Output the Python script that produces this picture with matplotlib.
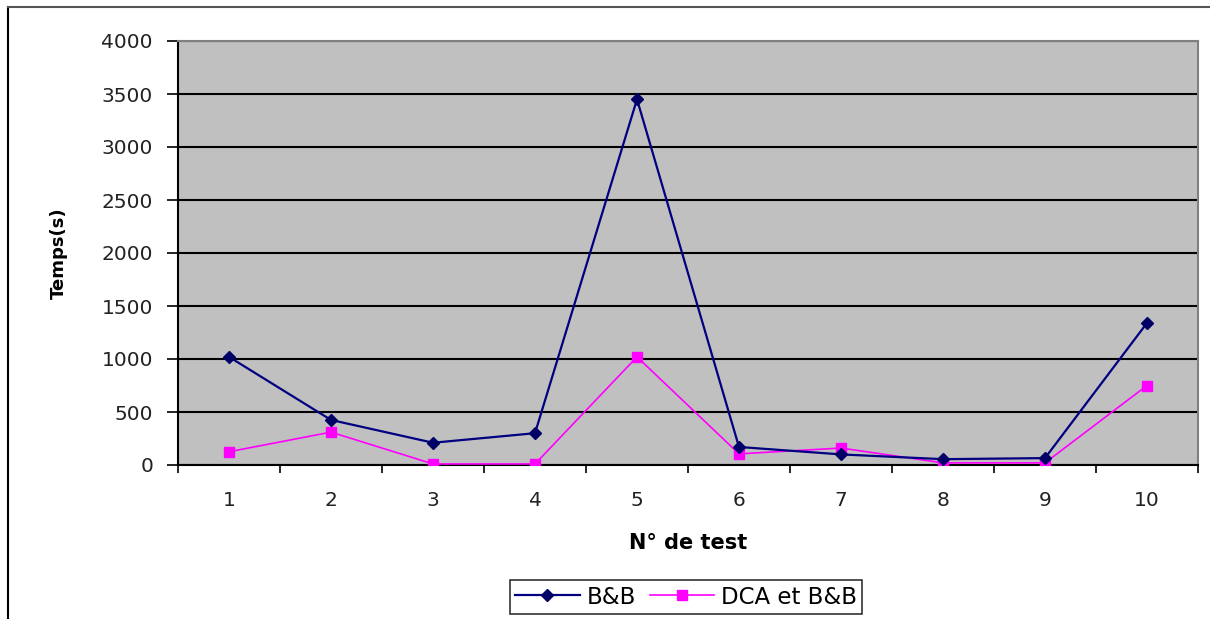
import numpy as np
import matplotlib
matplotlib.use("Agg")
import matplotlib.pyplot as plt
from matplotlib.lines import Line2D

# values
tests = [1, 2, 3, 4, 5, 6, 7, 8, 9, 10]
bb = [1020, 425, 210, 300, 3450, 170, 100, 55, 65, 1340]
dca_bb = [125, 310, 10, 10, 1020, 105, 160, 20, 20, 750]
y_ticks = [0, 500, 1000, 1500, 2000, 2500, 3000, 3500, 4000]

NAVY, MAGENTA, PLOT_BG = "#000080", "#FF00FF", "#C0C0C0"

plt.rcParams["font.family"] = "DejaVu Sans"
fig = plt.figure(figsize=(12.1, 6.19), dpi=100)
ax = fig.add_axes([178 / 1210, 154 / 619, 1020 / 1210, 424 / 619])
ax.set_facecolor(PLOT_BG)

x = np.arange(len(tests))
ax.plot(x, bb, color=NAVY, lw=1.6, marker="D", ms=6, mfc="#000066",
        mec="#000066", label="B&B", zorder=4)
ax.plot(x, dca_bb, color=MAGENTA, lw=1.2, marker="s", ms=7, mfc=MAGENTA,
        mec=MAGENTA, label="DCA et B&B", zorder=3)

ax.set_xlim(-0.5, len(tests) - 0.5)
ax.set_ylim(0, 4000)
ax.set_yticks(y_ticks)
ax.set_yticklabels([str(v) for v in y_ticks], fontsize=14.5, color="#222222")
ax.set_xticks(x)
ax.set_xticklabels([str(t) for t in tests], fontsize=14.5, color="#222222")
ax.set_xticks(np.arange(len(tests) + 1) - 0.5, minor=True)
ax.tick_params(axis="x", which="major", length=0, pad=19)
ax.tick_params(axis="x", which="minor", length=6, width=1.2, color="black")
ax.tick_params(axis="y", length=8, width=1.2, pad=10, color="black")

ax.yaxis.grid(True, color="black", lw=1.5)
ax.set_axisbelow(True)
for s in ["top", "right"]:
    ax.spines[s].set_color("#808080")
    ax.spines[s].set_linewidth(1.5)
for s in ["left", "bottom"]:
    ax.spines[s].set_color("black")
    ax.spines[s].set_linewidth(1.5)

ax.set_xlabel("N° de test", fontsize=15, fontweight="bold")
ax.xaxis.set_label_coords(0.5, -0.16)
ax.set_ylabel("Temps(s)", fontsize=13, fontweight="bold")
ax.yaxis.set_label_coords(-0.108, 0.5)

leg = fig.legend(loc="center", bbox_to_anchor=(686 / 1210, 1 - 597 / 619),
                 ncol=2, fontsize=16.5, frameon=True, fancybox=False,
                 handlelength=2.8, columnspacing=0.6, handletextpad=0.3,
                 borderpad=0.25)
leg.get_frame().set_edgecolor("black")
leg.get_frame().set_linewidth(1.2)

# outer chart border (cropped on right and bottom in the reference)
fig.add_artist(Line2D([8 / 1210, 8 / 1210], [0, 1 - 7 / 619], color="black", lw=1.5))
fig.add_artist(Line2D([8 / 1210, 1], [1 - 7 / 619, 1 - 7 / 619], color="#555555", lw=1.5))

fig.savefig("out.png", dpi=100)
